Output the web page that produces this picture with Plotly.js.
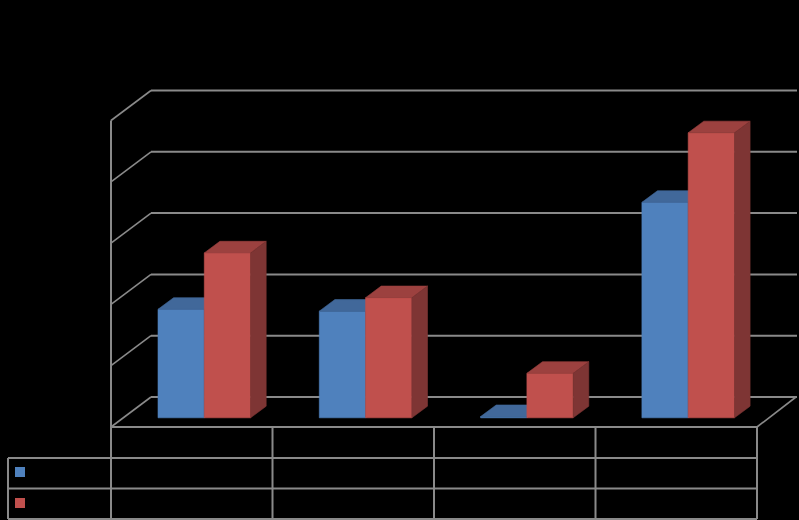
<!DOCTYPE html>
<html><head><meta charset="utf-8">
<script src="https://cdn.plot.ly/plotly-3.0.1.min.js"></script>
<style>html,body{margin:0;padding:0;background:#000}</style></head>
<body><div id="chart" style="width:799px;height:520px"></div>
<script>
var categories = [0, 1, 2, 3];
var blueValues = [1.77, 1.74, 0.02, 3.515];
var redValues = [2.69, 1.96, 0.726, 4.65];
var gridLevels = [0, 1, 2, 3, 4, 5];
var tableColumns = [111, 272.5, 434, 595.5, 757];
var tableRows = [458, 488.5, 519];

var W = 799, H = 520;
var catPx = 161.3, unitPx = 61.3, x0Px = 204.3, y0Px = 417.8;
function X(px) { return (px - x0Px) / catPx; }
function Y(py) { return (y0Px - py) / unitPx; }
var barW = 46.3 / catPx, dX = 15.6 / catPx, dY = 11.6 / unitPx;

function topFace(vals, off) {
  var xs = [], ys = [];
  vals.forEach(function (v, i) {
    var l = categories[i] + off, r = l + barW;
    xs.push(l, r, r + dX, l + dX, l, null);
    ys.push(v, v, v + dY, v + dY, v, null);
  });
  return { x: xs, y: ys };
}
function sideFace(vals, off) {
  var xs = [], ys = [];
  vals.forEach(function (v, i) {
    var r = categories[i] + off + barW;
    xs.push(r, r + dX, r + dX, r, r, null);
    ys.push(0, dY, v + dY, v, 0, null);
  });
  return { x: xs, y: ys };
}
function poly(f, color, ax) {
  return { type: 'scatter', mode: 'lines', x: f.x, y: f.y, fill: 'toself', fillcolor: color,
    line: { width: 0.6, color: color }, hoverinfo: 'skip', showlegend: false, xaxis: ax[0], yaxis: ax[1] };
}
function bar(vals, off, color, name, ax) {
  return { type: 'bar', name: name, x: categories, y: vals, width: barW, offset: off,
    marker: { color: color, line: { width: 0.6, color: color } }, showlegend: false, xaxis: ax[0], yaxis: ax[1] };
}
var A = ['x', 'y'], B = ['x2', 'y2'];
var BLUE = '#4F81BD', BLUE_TOP = '#41689A', BLUE_SIDE = '#375A84';
var RED = '#C0504D', RED_TOP = '#9C413F', RED_SIDE = '#7E3534';

var traces = [
  bar(blueValues, -barW, BLUE, 'Series 1', A),
  poly(topFace(blueValues, -barW), BLUE_TOP, A),
  poly(sideFace(blueValues, -barW), BLUE_SIDE, A),
  poly(topFace(redValues, 0), RED_TOP, B),
  poly(sideFace(redValues, 0), RED_SIDE, B),
  bar(redValues, 0, RED, 'Series 2', B),
  { type: 'scatter', mode: 'markers', x: [X(20)], y: [Y(472)], marker: { symbol: 'square', size: 10, color: BLUE, line: { width: 0 } }, hoverinfo: 'skip', showlegend: false },
  { type: 'scatter', mode: 'markers', x: [X(20)], y: [Y(503)], marker: { symbol: 'square', size: 10, color: RED, line: { width: 0 } }, hoverinfo: 'skip', showlegend: false }
];

var GRAY = '#8a8a8a';
function seg(x1, y1, x2, y2, w) {
  return { type: 'line', xref: 'x', yref: 'y', x0: X(x1), y0: Y(y1), x1: X(x2), y1: Y(y2),
    layer: 'below', line: { color: GRAY, width: w || 2 } };
}
var shapes = [];
gridLevels.forEach(function (k) {
  var front = 427 - k * unitPx, back = 397 - k * unitPx;
  shapes.push(seg(111, front, 151, back, 1.6));
  shapes.push(seg(151, back, 797, back, 2));
});
shapes.push(seg(757, 427, 796, 397, 1.6));
shapes.push(seg(111, 427, 757, 427));
shapes.push(seg(111, 120.5, 111, 519));
tableColumns.slice(1).forEach(function (c) { shapes.push(seg(c, 427, c, 519)); });
shapes.push(seg(8, 458, 8, 519));
tableRows.forEach(function (r) { shapes.push(seg(8, r, 757, r)); });

var rx = [X(0), X(W)], ry = [Y(H), Y(0)];
function axis(r, extra) {
  return Object.assign({ range: r, visible: false, showgrid: false, zeroline: false, fixedrange: true }, extra || {});
}
var layout = {
  width: W, height: H, margin: { l: 0, r: 0, t: 0, b: 0, pad: 0 },
  paper_bgcolor: '#000000', plot_bgcolor: '#000000', showlegend: false, barmode: 'overlay',
  xaxis: axis(rx), yaxis: axis(ry),
  xaxis2: axis(rx, { overlaying: 'x' }), yaxis2: axis(ry, { overlaying: 'y' }),
  shapes: shapes
};
Plotly.newPlot('chart', traces, layout, { displayModeBar: false, staticPlot: true });
</script></body></html>
